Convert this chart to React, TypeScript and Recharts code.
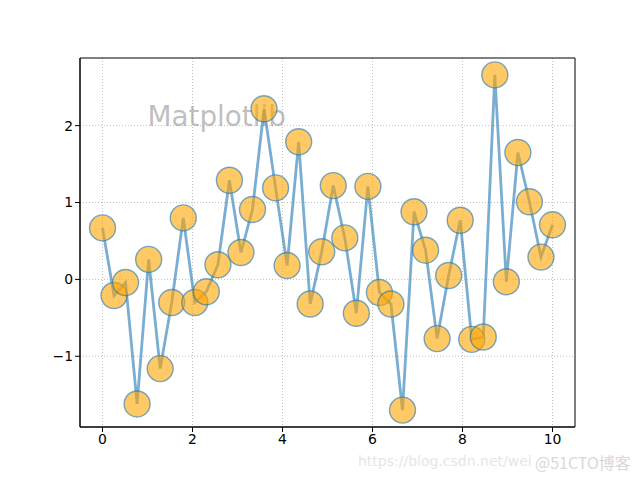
import {
  CartesianGrid,
  ComposedChart,
  Line,
  ReferenceArea,
  ReferenceDot,
  XAxis,
  YAxis,
} from "recharts";

// 40 samples, x = linspace(0, 10, 40)
const xValues = Array.from({ length: 40 }, (_, i) => (i * 10) / 39);

const yValues = [
  0.67, -0.21, -0.04, -1.62, 0.26, -1.16, -0.3, 0.8, -0.3, -0.16,
  0.19, 1.29, 0.35, 0.91, 2.22, 1.19, 0.18, 1.79, -0.32, 0.36,
  1.22, 0.54, -0.44, 1.21, -0.17, -0.32, -1.7, 0.88, 0.38, -0.77,
  0.05, 0.77, -0.78, -0.75, 2.66, -0.03, 1.65, 1.01, 0.29, 0.71,
];

const xTicks = [0, 2, 4, 6, 8, 10];
const yTicks = [-1, 0, 1, 2];

const data = xValues.map((x, i) => ({ x, y: yValues[i] }));

const FONT = "DejaVu Sans, sans-serif";
const fmt = (v: number) => (v < 0 ? `\u2212${Math.abs(v)}` : `${v}`);

export default function App() {
  return (
    <div style={{ position: "absolute", left: 0, top: 0, width: 640, height: 480, background: "#fff" }}>
      <ComposedChart
        width={640}
        height={480}
        data={data}
        margin={{ top: 58, right: 65, bottom: 25, left: 0 }}
      >
        <CartesianGrid
          stroke="#b0b0b0"
          strokeDasharray="1 2"
          strokeWidth={0.8}
          horizontalValues={yTicks}
          verticalValues={xTicks}
        />
        <XAxis
          dataKey="x"
          type="number"
          domain={[-0.5, 10.5]}
          ticks={xTicks}
          allowDataOverflow
          height={28}
          axisLine={{ stroke: "#000", strokeWidth: 1 }}
          tickLine={{ stroke: "#000" }}
          tickSize={5}
          tick={{ fontSize: 13.9, fill: "#000", fontFamily: FONT }}
          tickFormatter={fmt}
        />
        <YAxis
          type="number"
          domain={[-1.92, 2.88]}
          ticks={yTicks}
          allowDataOverflow
          width={80}
          axisLine={{ stroke: "#000", strokeWidth: 1 }}
          tickLine={{ stroke: "#000" }}
          tickSize={5}
          tick={{ fontSize: 13.9, fill: "#000", fontFamily: FONT }}
          tickFormatter={fmt}
        />
        <ReferenceArea
          x1={-0.5}
          x2={10.5}
          y1={-1.92}
          y2={2.88}
          fill="none"
          stroke="#000"
          strokeWidth={1}
        />
        <ReferenceDot
          x={1}
          y={2}
          r={0}
          shape={(p: any) => (
            <text
              x={p.cx}
              y={p.cy}
              fontSize={27.8}
              fontFamily={FONT}
              fill="#808080"
              fillOpacity={0.5}
            >
              Matplotlib
            </text>
          )}
        />
        <Line
          dataKey="y"
          type="linear"
          stroke="#1f77b4"
          strokeOpacity={0.6}
          strokeWidth={2.8}
          dot={{
            r: 13,
            fill: "orange",
            fillOpacity: 0.6,
            stroke: "#1f77b4",
            strokeOpacity: 0.6,
            strokeWidth: 1.4,
          }}
          activeDot={false}
          isAnimationActive={false}
        />
      </ComposedChart>
      <div
        style={{
          position: "absolute",
          left: 358,
          top: 453,
          fontFamily: "DejaVu Sans, sans-serif",
          fontSize: 14,
          color: "#e6e6e6",
          whiteSpace: "nowrap",
        }}
      >
        https://blog.csdn.net/wei
      </div>
      <div
        style={{
          position: "absolute",
          left: 535,
          top: 450,
          fontFamily: "Noto Sans CJK SC, sans-serif",
          fontSize: 16,
          color: "#d8d8d8",
          whiteSpace: "nowrap",
        }}
      >
        @51CTO博客
      </div>
    </div>
  );
}
